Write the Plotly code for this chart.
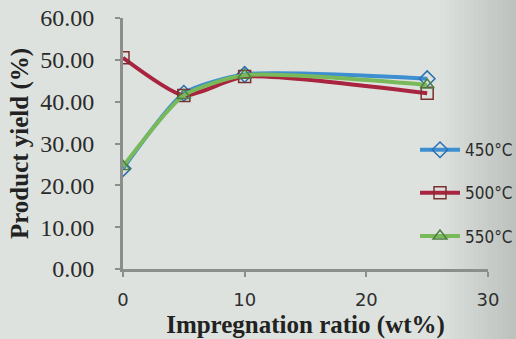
import plotly.graph_objects as go

# Impregnation ratio (wt%) and product yield (%) at three carbonisation temperatures
ratio = [0, 5, 10, 25]
yield_450 = [24.0, 42.0, 46.5, 45.5]
yield_500 = [50.5, 41.5, 46.0, 42.0]
yield_550 = [24.5, 41.5, 46.3, 44.0]
series_names = ["450°C", "500°C", "550°C"]

x_ticks = [0, 10, 20, 30]
y_ticks = [0, 10, 20, 30, 40, 50, 60]

styles = [
    dict(line="#3d8fd1", marker="#2a6fb0", symbol="diamond-open"),
    dict(line="#a8243f", marker="#7a3030", symbol="square-open"),
    dict(line="#79b95a", marker="#4f7f3f", symbol="triangle-up-open"),
]

fig = go.Figure()
for i, (name, ys) in enumerate(zip(series_names, [yield_450, yield_500, yield_550])):
    st = styles[i]
    fig.add_trace(go.Scatter(
        x=ratio, y=ys, name=name, mode="lines+markers",
        line=dict(color=st["line"], width=4, shape="spline", smoothing=0.6),
        marker=dict(symbol=st["symbol"], size=12, color=st["marker"],
                    line=dict(width=1.5, color=st["marker"])),
        legendgroup=name,
    ))

# soft darkening of the paper toward the right edge
steps = 16
for k in range(steps):
    px0 = 440 + k * (516 - 440) / steps
    fig.add_shape(type="rect", xref="paper", yref="paper",
                  x0=(px0 - 123) / 365, x1=(516 - 123) / 365,
                  y0=-70 / 251, y1=(339 - 70) / 251,
                  fillcolor="#505050", opacity=0.012, line_width=0, layer="below")

fig.update_layout(
    width=516, height=339,
    margin=dict(l=123, r=28, t=18, b=70, autoexpand=False),
    paper_bgcolor="#dde2de",
    plot_bgcolor="rgba(0,0,0,0)",
    showlegend=True,
    legend=dict(
        x=0.80, xanchor="left", y=0.545, yanchor="top",
        bgcolor="rgba(0,0,0,0)",
        font=dict(family="DejaVu Sans Condensed", size=17, color="#2b2b2b"),
        tracegroupgap=18, itemwidth=40,
    ),
)

fig.update_xaxes(
    range=[0, 30], tickvals=x_ticks, ticktext=[str(v) for v in x_ticks],
    showgrid=False, zeroline=False,
    showline=True, linecolor="#8c8e8c", linewidth=3,
    ticks="outside", ticklen=5, tickwidth=2, tickcolor="#8c8e8c",
    ticklabelstandoff=7,
    tickfont=dict(family="DejaVu Sans", size=18, color="#2f2f2f"),
    title=dict(text="<b>Impregnation ratio (wt%)</b>",
               font=dict(family="Liberation Serif", size=25, color="#222222"),
               standoff=8),
)
fig.update_yaxes(
    range=[0, 60], tickvals=y_ticks, ticktext=[f"{v:.2f}" for v in y_ticks],
    showgrid=False, zeroline=False,
    showline=True, linecolor="#8c8e8c", linewidth=3,
    ticks="outside", ticklen=5, tickwidth=2, tickcolor="#8c8e8c",
    ticklabelstandoff=16,
    tickfont=dict(family="Liberation Serif", size=24, color="#2a2a2a"),
    title=dict(text="<b>Product yield (%)</b>",
               font=dict(family="Liberation Serif", size=25, color="#222222"),
               standoff=5),
)

fig.write_html("out.html")
